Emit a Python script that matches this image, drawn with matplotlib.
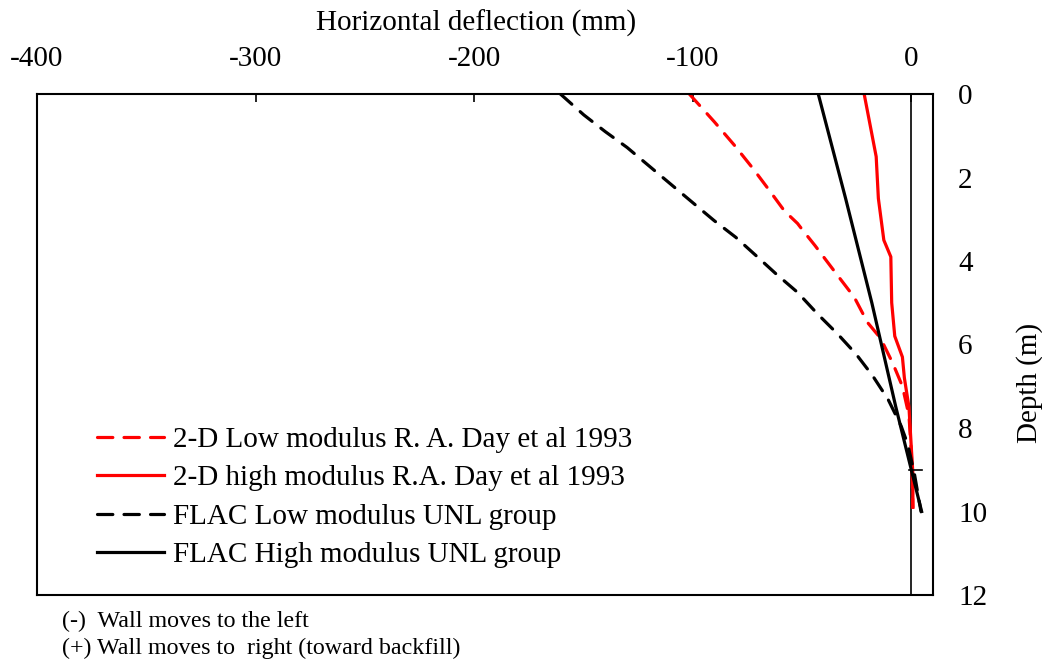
import numpy as np
import matplotlib.pyplot as plt

plt.rcParams['font.family'] = ['Liberation Serif', 'DejaVu Serif']
plt.rcParams['axes.unicode_minus'] = False

# deflection (mm) vs depth (m)
red_low_x = [-101.5, -90, -81, -72.6, -65, -58, -52, -49.5, -44, -33.6, -26, -20, -14, -8.4, -4, -1, 0, 0.5, 0.8]
red_low_y = [0, 0.67, 1.22, 1.77, 2.3, 2.8, 3.1, 3.27, 3.63, 4.35, 4.87, 5.47, 5.85, 6.45, 7.0, 7.7, 8.5, 9.2, 9.9]

red_high_x = [-21.5, -16, -15, -12.5, -9.3, -8.9, -7.5, -4, -3.1, -1, 0, 0.8, 0.8]
red_high_y = [0, 1.5, 2.5, 3.5, 3.9, 5.0, 5.8, 6.3, 6.8, 7.5, 8.4, 9.1, 9.9]

flac_low_x = [-160.5, -149.8, -140, -130, -120, -110, -100, -90.2, -80.3, -71, -62, -52, -42.8, -33.6, -25.2, -17.6, -10.5, -4.6, -1.5, 1.5, 4.5]
flac_low_y = [0, 0.5, 0.9, 1.28, 1.72, 2.16, 2.6, 3.03, 3.43, 3.87, 4.3, 4.75, 5.27, 5.75, 6.23, 6.75, 7.32, 7.95, 8.4, 9.1, 10.0]

flac_high_x = [-42.5, -30, -18, -7, 4.8]
flac_high_y = [0, 2.5, 5, 7.5, 10]

labels = ['2-D Low modulus R. A. Day et al 1993',
          '2-D high modulus R.A. Day et al 1993',
          'FLAC Low modulus UNL group',
          'FLAC High modulus UNL group']

fig = plt.figure(figsize=(10.42, 6.61), dpi=100)
ax = fig.add_axes([37 / 1042, 1 - 595 / 661, (933 - 37) / 1042, (595 - 94) / 661])

lw = 2.3
dash = (4.8, 3.5)
ax.plot(red_low_x, red_low_y, color='red', lw=lw, dashes=dash, dash_capstyle='round', label=labels[0])
ax.plot(red_high_x, red_high_y, color='red', lw=lw, label=labels[1])
ax.plot(flac_low_x, flac_low_y, color='black', lw=lw, dashes=dash, dash_capstyle='round', label=labels[2])
ax.plot(flac_high_x, flac_high_y, color='black', lw=lw, label=labels[3])

# wall reference line at zero and its single tick
ax.axvline(0, color='black', lw=1.2, zorder=1)
ax.plot([-1, 5], [9, 9], color='black', lw=1.2)

ax.set_xlim(-400, 10)
ax.set_ylim(12, 0)
ax.set_xticks([-400, -300, -200, -100, 0])
ax.set_yticks([0, 2, 4, 6, 8, 10, 12])

ax.xaxis.tick_top()
ax.yaxis.tick_right()
ax.tick_params(axis='x', direction='in', length=6, width=1.2, labelsize=21, pad=16)
ax.tick_params(axis='y', length=0, labelsize=21, pad=18)
for s in ax.spines.values():
    s.set_linewidth(1.5)

fig.text(476 / 1042, 1 - 23 / 661, 'Horizontal deflection (mm)', ha='center', va='center', fontsize=21)
fig.text(1030 / 1042, 1 - 383 / 661, 'Depth (m)', ha='center', va='center', rotation=90, fontsize=21)

ax.legend(loc='upper left', bbox_to_anchor=(0.067, 0.336), frameon=False, fontsize=21,
          handlelength=2.3, handletextpad=0.3, labelspacing=0.41, borderpad=0, borderaxespad=0)

fig.text(62 / 1042, 1 - 621 / 661, '(-)  Wall moves to the left', ha='left', va='center', fontsize=17.3)
fig.text(62 / 1042, 1 - 648 / 661, '(+) Wall moves to  right (toward backfill)', ha='left', va='center', fontsize=17.3)

fig.savefig('out.png', dpi=100)
